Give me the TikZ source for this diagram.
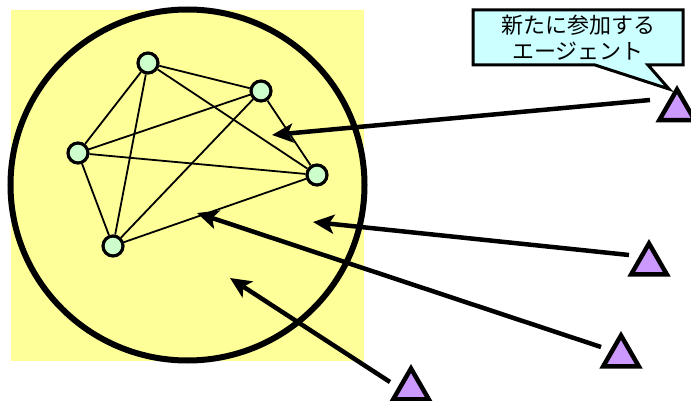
\documentclass[tikz,border=0pt]{standalone}
\usepackage{fontspec}
\newfontfamily\cjk{Noto Sans CJK JP}
\usetikzlibrary{arrows.meta,shapes.geometric}
\definecolor{bgyellow}{HTML}{FFFF99}
\definecolor{agentgreen}{HTML}{CCFFCC}
\definecolor{newpurple}{HTML}{CC99FF}
\definecolor{calloutcyan}{HTML}{CCFFFF}
\tikzset{
  agent/.style={circle,draw=black,line width=3.2pt,fill=agentgreen,minimum size=20pt,inner sep=0pt},
  link/.style={line width=1.8pt},
  newagent/.style={regular polygon,regular polygon sides=3,draw=black,line width=4.5pt,fill=newpurple,minimum size=41pt,inner sep=0pt},
  joinarrow/.style={line width=4.5pt,-{Stealth[length=21pt,width=19pt,inset=5pt]}},
  notebox/.style={draw=black,line width=3pt,fill=calloutcyan},
  notetext/.style={align=center,inner sep=0pt,font=\cjk\fontsize{22}{26}\selectfont}
}
\begin{document}
\begin{tikzpicture}[x=1pt,y=-1pt]
\useasboundingbox (0,0) rectangle (691,401);
\fill[bgyellow] (11,10) rectangle (364,361);
\draw[line width=6pt] (187.5,185) ellipse [x radius=177, y radius=175.5];
% agents
\node[agent] (n1) at (148,63) {};
\node[agent] (n2) at (261,91) {};
\node[agent] (n3) at (78,153) {};
\node[agent] (n4) at (317,175) {};
\node[agent] (n5) at (113,246) {};
\foreach \a/\b in {n1/n2,n1/n3,n1/n4,n1/n5,n2/n3,n2/n4,n2/n5,n3/n4,n3/n5,n4/n5}
  \draw[link] (\a) -- (\b);
% new agents
\node[newagent] (t1) at (677,110) {};
\node[newagent] (t2) at (649,264) {};
\node[newagent] (t3) at (621,356) {};
\node[newagent] (t4) at (411,389) {};
% arrow ends
\coordinate (s1) at (650,100);
\coordinate (e1) at (272,135);
\coordinate (s2) at (629,255);
\coordinate (e2) at (313,222);
\coordinate (s3) at (601,347);
\coordinate (e3) at (197,213);
\coordinate (s4) at (390,382);
\coordinate (e4) at (230,278);
\draw[joinarrow] (s1) -- (e1);
\draw[joinarrow] (s2) -- (e2);
\draw[joinarrow] (s3) -- (e3);
\draw[joinarrow] (s4) -- (e4);
% callout
\coordinate (ctip) at (669,89);
\draw[notebox] (473,10) -- (683,10) -- (683,65) -- (648,65) -- (ctip) -- (595,65) -- (473,65) -- cycle;
\node[notetext] (c) at (578,38) {新たに参加する\\エージェント};
\end{tikzpicture}
\end{document}
